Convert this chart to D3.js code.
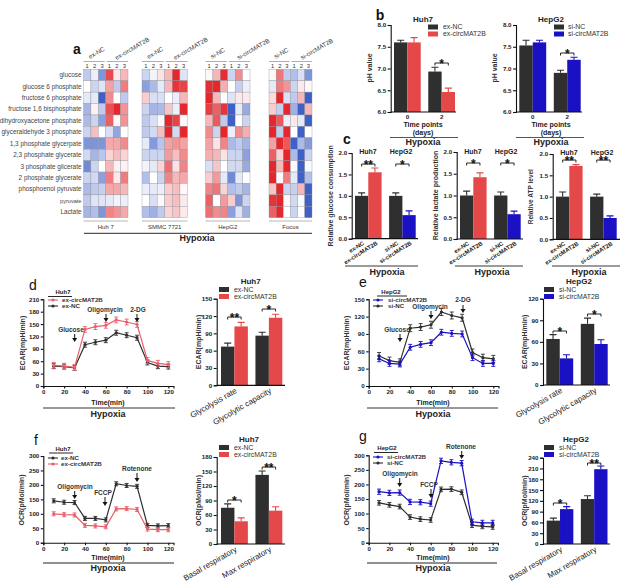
<!DOCTYPE html>
<html><head><meta charset="utf-8">
<script src="https://cdn.jsdelivr.net/npm/d3@7"></script>
<style>html,body{margin:0;padding:0;background:#fff}svg{display:block}text{font-family:"Liberation Sans",Arial,sans-serif;fill:#222}</style>
</head><body><svg id="c" width="643" height="588"></svg>
<script>
// ---------- data ----------
const metabolites=["glucose","glucose 6 phosphate","fructose 6 phosphate","fructose 1,6 bisphosphate","dihydroxyacetone phosphate","glyceraldehyde 3 phosphate","1,3 phosphate glycerpate","2,3 phosphate glycerate","3 phosphate glicerate","2 phosphate glycerate","phosphoenol pyruvate","pyruvate","Lactate"];
const replicateLabels=["1","2","3","1","2","3"];
const heatHuh7=[[-1,-.3,-2,2.5,.3,1],[0,-.8,-.5,1.3,-1,1.8],[-.4,-.4,-3,1.6,0,-1],[-1.4,.2,-1,2.4,3,1.5],[-1.3,-.8,-1.8,2.2,.1,1.5],[-.8,.9,0,-.6,-1.7,0],[-2,-2,-2,1.2,1.2,1.6],[-.7,-1.4,-1.1,.6,.9,.6],[-2.2,-.8,0,1,.2,.2],[-.8,-.7,-1.8,1.8,.3,1.8],[-1.3,-1,-.9,1.2,1.2,1],[-1,-.5,-.5,-.4,-.2,-.3],[-1.4,-1.2,-2,1.7,1.5,1.2]];
const heatSMMC=[[-.8,-.2,.4,1,3,-.5],[-1.8,-1.3,-.4,1,2.8,2.6],[.7,-.6,-.6,0,-.3,1],[-.8,-1.4,-1.3,.8,-.3,3],[-1,-.6,-.1,3,2.6,.1],[-1,-.7,.9,3,-.7,3],[-.4,-1.9,-1.1,1.3,1.5,1.3],[-.8,-.8,-.8,1.4,.9,1.6],[-.2,-.4,.6,2,.4,1.7],[-1.2,0,-.8,1.7,1,1.2],[-.3,-.4,-.3,.7,.9,.1],[0,-.6,.1,.7,.9,.3],[-1.2,-1.5,-1,.6,.8,.3]];
const heatHepG2=[[.1,1,2.9,-.8,1.6,0],[2.9,3,1.1,0,-.9,-.3],[3,1,0,-.5,.3,.3],[2.7,2.2,2.8,-3,-.4,-1.6],[1,2.3,-1,-3,0,-.8],[1.6,-.8,3,-.3,1.6,1.1],[1.3,.4,1.7,-1.3,-1,-1.4],[1.1,1,.4,-.8,-.8,-1.8],[-.6,.8,0,-.7,-.7,-1.6],[.7,1.4,-.4,-2.2,-.4,0],[1.7,1.9,.6,-1.2,-1,-1.4],[2.2,0,1.4,.7,-2,-.8],[2,1.6,1.7,-1.8,-.5,-1.5]];
const heatFocus=[[.1,1.9,-1,-1.2,-.6,-2],[-.4,1.8,1.5,-.8,.3,.1],[.5,3,-.6,-1,1,-3],[.7,-.9,3,-1.5,-3,1],[3,2.3,-.3,.3,-.4,-3],[3,-1,3,0,-3,0],[1.3,3,2.3,-3,-1.3,-1.9],[2.2,.6,3,-1.3,-3,-.8],[3,1,3,-.1,-3,-.1],[3,.1,1.8,-.4,-3,-1.2],[.8,3,-.8,-.9,1,-3],[2.8,3,.1,-.7,-.1,-3],[2.2,3,0,-.8,0,-3]];

const timePoints=[10,20,30,40,50,60,70,80,90,100,110,120];
const ecarHuh7Circ=[50,48,45,137,144,147,160,155,149,62,55,52];
const ecarHuh7NC=[48,47,44,100,106,111,129,123,117,57,48,47];
const ecarHepCirc=[47,39,38,67,72,75,93,91,90,49,39,39];
const ecarHepNC=[52,44,41,100,102,106,128,122,118,58,49,47];
const ocrHuh7NC=[145,140,139,84,84,79,204,198,195,60,58,59];
const ocrHuh7Circ=[100,97,96,60,58,55,117,118,115,47,45,45];
const ocrHepCirc=[175,171,172,140,139,134,281,276,273,72,68,68];
const ocrHepNC=[137,130,124,88,81,78,183,184,173,60,56,54];

const phHuh7=[[7.6,7.6],[6.93,6.46]], phHuh7Err=[[.05,.11],[.1,.09]];
const phHep=[[7.53,7.6],[6.9,7.2]], phHepErr=[[.12,.05],[.06,.06]];
const glucoseCons=[[1,1.55],[1,.55]], glucoseConsErr=[[.07,.1],[.07,.1]];
const lactateProd=[[1,1.42],[1,.57]], lactateProdErr=[[.1,.1],[.08,.07]];
const atpLevel=[[1,1.72],[1,.5]], atpLevelErr=[[.11,.03],[.06,.05]];
const glycHuh7=[[67,102],[86,117]], glycHuh7Err=[[6,7],[6,6]];
const glycHep=[[64,37],[85,57]], glycHepErr=[[6,5],[8,6]];
const respHuh7=[[75,47],[143,69]], respHuh7Err=[[8,7],[8,8]];
const respHep=[[65,97],[125,208]], respHepErr=[[7,7],[9,9]];
const cTickLabels=["ex-NC","ex-circMAT2B","si-NC","si-circMAT2B"];
const glycLabels=["Glycolysis rate","Glycolytic capacity"];
const respLabels=["Basal respiratory","Max respiratory"];

// ---------- helpers ----------
const DARK="#2f2f2f",RED="#e54848",BLUE="#1a10c4",LRED="#e8606c";
const svg=d3.select("#c");
function txt(x,y,s,o={}){return svg.append("text").attr("x",x).attr("y",y).text(s)
  .attr("text-anchor",o.anchor||"middle").attr("font-size",o.size||7).attr("font-weight",o.weight||"normal")
  .attr("transform",o.rot!=null?`rotate(${o.rot} ${x} ${y})`:null).style("fill",o.fill||"#222");}
function hl(x1,x2,y,w=1,c="#222"){svg.append("line").attr("x1",x1).attr("x2",x2).attr("y1",y).attr("y2",y).attr("stroke",c).attr("stroke-width",w);}
function styleAxis(g,w=1.1){g.select(".domain").attr("stroke","#111").attr("stroke-width",w);
  g.selectAll(".tick line").attr("stroke","#111").attr("stroke-width",w);
  g.selectAll(".tick text").attr("font-size",6.2).attr("font-weight","bold").attr("font-family",'"Liberation Sans",Arial,sans-serif').style("fill","#222");}
function bracket(x1,x2,y,n,size=12){
  svg.append("path").attr("d",`M${x1},${y+2.5}V${y}H${x2}V${y+2.5}`).attr("fill","none").attr("stroke","#111").attr("stroke-width",.9);
  txt((x1+x2)/2,y+size*.42-.5,n,{size,weight:"bold",fill:"#111"});
}
function hypoxia(x,y,x1,x2,ly,color="#222",w=1){hl(x1,x2,ly,w,color);txt(x,y,"Hypoxia",{size:9,weight:"bold"});}

// bar panel
function bars(o){
  const y=d3.scaleLinear().domain([o.min||0,o.max]).range([o.y0,o.y1]);
  const x=d3.scaleBand().domain([0,1]).range([o.xa,o.xb]).paddingInner(o.gap||.22);
  const inner=d3.scaleBand().domain([0,1]).range([0,x.bandwidth()]);
  const yAxis=svg.append("g").attr("transform",`translate(${o.ax},0)`).call(d3.axisLeft(y).tickValues(o.ticks).tickFormat(o.fmt||d3.format("d")).tickSize(3).tickPadding(1.5));
  styleAxis(yAxis);
  const colors=[DARK,o.color];
  const rows=o.vals.flatMap((r,g)=>r.map((v,s)=>({g,s,v,e:o.err[g][s]})));
  svg.append("g").selectAll("rect").data(rows).join("rect")
    .attr("x",d=>x(d.g)+inner(d.s)).attr("width",inner.bandwidth()).attr("y",d=>y(d.v)).attr("height",d=>y(o.min||0)-y(d.v)).attr("fill",d=>colors[d.s]);
  const cx=d=>x(d.g)+inner(d.s)+inner.bandwidth()/2;
  svg.append("g").attr("stroke-width",1.1).selectAll("path").data(rows).join("path")
    .attr("d",d=>`M${cx(d)},${y(d.v)}V${y(d.v+d.e)}M${cx(d)-3.5},${y(d.v+d.e)}H${cx(d)+3.5}`).attr("fill","none").attr("stroke",d=>colors[d.s]);
  hl(o.ax,o.xEnd,o.y0,1.2,"#111");
  return {x,inner,y,cx};
}
function legendBars(sx,tx,ys,names,color,sw=10){
  names.forEach((n,i)=>{svg.append("rect").attr("x",sx).attr("y",ys[i]-2.5).attr("width",sw).attr("height",5).attr("fill",i?color:DARK);
    txt(tx,ys[i]+2.4,n,{anchor:"start",size:6.9,fill:"#333"});});
}
// line panel
function linePanel(o){
  const x=d3.scaleLinear().domain([0,o.xMax||125]).range([o.x0,o.x0+(o.x120-o.x0)*(o.xMax||125)/120]);
  const y=d3.scaleLinear().domain([0,o.max]).range([o.y0,o.y1]);
  styleAxis(svg.append("g").attr("transform",`translate(0,${o.y0})`).call(d3.axisBottom(x).tickValues(d3.range(0,121,20)).tickSize(2.5).tickPadding(1.5)));
  styleAxis(svg.append("g").attr("transform",`translate(${o.x0},0)`).call(d3.axisLeft(y).tickValues(o.ticks).tickSize(2.5).tickPadding(1.5)));
  o.series.forEach(s=>{
    const g=svg.append("g");
    g.append("path").datum(s.v).attr("fill","none").attr("stroke",s.c).attr("stroke-width",1.2)
      .attr("d",d3.line().x((d,i)=>x(timePoints[i])).y(d=>y(d)));
    g.selectAll("path.e").data(s.v).join("path").attr("class","e").attr("fill","none").attr("stroke",s.c).attr("stroke-width",.9)
      .attr("d",(d,i)=>{const X=x(timePoints[i]);return `M${X},${y(d-s.e)}V${y(d+s.e)}M${X-2},${y(d-s.e)}H${X+2}M${X-2},${y(d+s.e)}H${X+2}`;});
    g.selectAll("circle").data(s.v).join("circle").attr("cx",(d,i)=>x(timePoints[i])).attr("cy",d=>y(d)).attr("r",1.6).attr("fill",s.c);
  });
  o.legend.forEach(l=>{hl(l.sx,l.sx+10,l.y,1.1,l.c);svg.append("circle").attr("cx",l.sx+5).attr("cy",l.y).attr("r",1.6).attr("fill",l.c);
    txt(l.tx,l.y+2,l.n,{anchor:"start",size:6.2,weight:"bold",fill:"#333"});});
  o.arrows.forEach(a=>{txt(a.tx,a.ty,a.n,{size:6.5,weight:"bold",fill:"#333"});
    svg.append("path").attr("d",`M${a.x},${a.a}V${a.b-3}`).attr("stroke","#111").attr("stroke-width",1);
    svg.append("path").attr("d",`M${a.x-2.5},${a.b-4}L${a.x+2.5},${a.b-4}L${a.x},${a.b}Z`).attr("fill","#111");});
  txt(o.tit[0],o.tit[1],o.tit[2],{size:6,weight:"bold"});hl(o.tit[3],o.tit[4],o.tit[1]+2.5,.9,"#111");
  txt(o.xl,o.xly,"Time(min)",{size:7,weight:"bold"});
  txt(o.yl[0],o.yl[1],o.yl[2],{size:7,weight:"bold",rot:-90,fill:"#333"});
}
function rotLabels(xs,labels,y,rot,size=6,weight="normal"){
  labels.forEach((l,i)=>txt(xs[i],y,l,{anchor:"end",rot,size,weight}));
}

// ---------- panel a ----------
const heatColor=d3.scaleLinear().domain([-3,0,3]).range(["#3f60c6","#ffffff","#e5262a"]);
const heatPanels=[{d:heatHuh7,a:83.5,b:128,n:"Huh 7",g:["ex-NC","ex-circMAT2B"]},{d:heatSMMC,a:142,b:187.5,n:"SMMC 7721",g:["ex-NC","ex-circMAT2B"]},{d:heatHepG2,a:205.5,b:250,n:"HepG2",g:["si-NC","si-circMAT2B"]},{d:heatFocus,a:269,b:312,n:"Focus",g:["si-NC","si-circMAT2B"]}];
const hy=d3.scaleBand().domain(d3.range(13)).range([69.3,217.7]);
metabolites.forEach((m,i)=>txt(81.5,hy(i)+hy.bandwidth()/2+2.2,m,{anchor:"end",size:i==11?5.6:6.4,fill:"#444"}));
heatPanels.forEach(p=>{
  const hx=d3.scaleBand().domain(d3.range(6)).range([p.a,p.b]);
  svg.append("g").selectAll("g").data(p.d).join("g").each(function(r,i){
    d3.select(this).selectAll("rect").data(r).join("rect").attr("x",(d,j)=>hx(j)).attr("y",hy(i)).attr("width",hx.bandwidth()).attr("height",hy.bandwidth())
      .attr("fill",d=>heatColor(d)).attr("stroke","#8d8d99").attr("stroke-width",.35);});
  replicateLabels.forEach((l,j)=>txt(hx(j)+hx.bandwidth()/2,67.5,l,{size:5.8,fill:"#333"}));
  hl(p.a,p.a+hx.bandwidth()*3-1,61.5,.6,"#777");hl(p.a+hx.bandwidth()*3+1,p.b,61.5,.6,"#777");
  txt(p.a+6.5,59,p.g[0],{anchor:"start",size:6.2,rot:-30,fill:"#333"});
  txt(p.a+33,60,p.g[1],{anchor:"start",size:6.2,rot:-30,fill:"#333"});
  hl(p.a,p.b,221,.6,"#888");
  txt((p.a+p.b)/2,229,p.n,{size:6,fill:"#333"});
});
hypoxia(197,241,84,312,233.3,"#555",1.2);

// ---------- panel b ----------
const fmt1=d3.format(".1f");
const phTicks=[6,6.5,7,7.5,8],cTicks=[0,.5,1,1.5,2];
function bPanel(vals,err,color,ax,xa,xb,xEnd,title,tx,lsx,ltx,names,ylx,brY,hx,hx1,hx2){
  const p=bars({vals,err,color,ax,xa,xb,xEnd,min:6,max:8,y0:112,y1:25,ticks:phTicks,fmt:fmt1});
  p.x.domain().forEach(g=>txt(p.x(g)+p.x.bandwidth()/2,119,["0","2"][g],{size:6.2,weight:"bold"}));
  txt(tx,22,title,{size:8,weight:"bold"});
  legendBars(lsx,ltx,[27,34],names,color);
  txt(ylx,68,"pH value",{size:7,weight:"bold",rot:-90,fill:"#333"});
  bracket(p.cx({g:1,s:0}),p.cx({g:1,s:1}),brY,"*");
  txt(hx,126.5,"Time points",{size:7,weight:"bold"});txt(hx,134.5,"(days)",{size:7,weight:"bold"});
  hypoxia(hx,145,hx1,hx2,137.5,"#555",1);
}
bPanel(phHuh7,phHuh7Err,RED,390.7,394,455,456,"Huh7",423,428,443,["ex-NC","ex-circMAT2B"],372,63,423,390,458);
bPanel(phHep,phHepErr,BLUE,516,519.3,580.7,582,"HepG2",551,554,568,["si-NC","si-circMAT2B"],497,53,551,516,584);

// ---------- panel c ----------
function cPanel(vals,err,ax,xa,xb,xEnd,y1,y0,yl,ylx,ylsz,tHuh,tHep,tY,brY,stars,hx,hl1,hl2){
  const y=d3.scaleLinear().domain([0,2]).range([y0,y1]);
  const x=d3.scaleBand().domain([0,1]).range([xa,xb]).paddingInner(.22);
  const inner=d3.scaleBand().domain([0,1]).range([0,x.bandwidth()]);
  styleAxis(svg.append("g").attr("transform",`translate(${ax},0)`).call(d3.axisLeft(y).tickValues(cTicks).tickFormat(fmt1).tickSize(3).tickPadding(1.5)));
  const rows=vals.flatMap((r,g)=>r.map((v,s)=>({g,s,v,e:err[g][s]})));
  const col=d=>d.s==0?DARK:(d.g==0?RED:BLUE);
  svg.append("g").selectAll("rect").data(rows).join("rect").attr("x",d=>x(d.g)+inner(d.s)).attr("width",inner.bandwidth()).attr("y",d=>y(d.v)).attr("height",d=>y0-y(d.v)).attr("fill",col);
  const cx=d=>x(d.g)+inner(d.s)+inner.bandwidth()/2;
  svg.append("g").selectAll("path").data(rows).join("path").attr("fill","none").attr("stroke-width",1.1).attr("stroke",col)
    .attr("d",d=>`M${cx(d)},${y(d.v)}V${y(d.v+d.e)}M${cx(d)-3.5},${y(d.v+d.e)}H${cx(d)+3.5}`);
  hl(ax,xEnd,y0,1.2,"#111");
  rotLabels(rows.map(d=>cx(d)+3),cTickLabels,y0+5.5,-32,5.8,"bold");
  txt(ylx,(y0+y1)/2,yl,{size:ylsz,weight:"bold",rot:-90,fill:"#333"});
  txt(tHuh,tY,"Huh7",{size:7,weight:"bold"});txt(tHep,tY,"HepG2",{size:7,weight:"bold"});
  [0,1].forEach(g=>bracket(cx({g,s:0}),cx({g,s:1}),brY,stars[g]));
  hypoxia(hx,274.5,hl1,hl2,266,"#222",.9);
}
cPanel(glucoseCons,glucoseConsErr,351.7,355,415.7,418,153,238.7,"Relative glucose consumption",333,7,368,401,154,164,["**","*"],387,345,418);
cPanel(lactateProd,lactateProdErr,456.7,460,520.7,523,152,239,"Relative lactate production",438,7,473,506,154,163,["*","*"],492,455,523);
cPanel(atpLevel,atpLevelErr,552.7,556,616.7,620,154,239.3,"Relative ATP level",533,6.5,569,602,155,160,["**","**"],589,552,620);

// ---------- panels d-g : time courses ----------
linePanel({x0:43.3,x120:168.3,y0:386,y1:299.3,max:210,ticks:d3.range(0,211,30),
  series:[{v:ecarHuh7NC,c:DARK,e:6},{v:ecarHuh7Circ,c:LRED,e:7}],
  legend:[{n:"ex-circMAT2B",y:300,sx:48,tx:62,c:LRED},{n:"ex-NC",y:306,sx:48,tx:62,c:DARK}],
  arrows:[{n:"Glucose",tx:71,ty:332,x:74.7,a:334,b:342},{n:"Oligomycin",tx:105,ty:312,x:106,a:314,b:322},{n:"2-DG",tx:138,ty:312,x:137,a:314,b:322}],
  tit:[63,294,"Huh7",48,72],xl:108,xly:405,yl:[25,343,"ECAR(mpH/min)"]});
hypoxia(108,417,43,175,408,"#777",1.5);
linePanel({x0:368.7,x120:493.3,y0:386,y1:299.3,max:150,ticks:d3.range(0,151,30),
  series:[{v:ecarHepNC,c:DARK,e:6},{v:ecarHepCirc,c:BLUE,e:5}],
  legend:[{n:"si-circMAT2B",y:300,sx:373,tx:388,c:BLUE},{n:"si-NC",y:306,sx:373,tx:388,c:DARK}],
  arrows:[{n:"Glucose",tx:397,ty:332,x:400,a:334,b:342},{n:"Oligomycin",tx:430,ty:309,x:431,a:311,b:319},{n:"2-DG",tx:463,ty:302,x:463,a:305,b:313}],
  tit:[391,293.5,"HepG2",377,407],xl:433,xly:405,yl:[349,343,"ECAR(mpH/min)"]});
hypoxia(433,417,367,498,408,"#777",1.5);
linePanel({x0:43.3,x120:168.3,y0:542.7,y1:456,max:300,ticks:d3.range(0,301,50),
  series:[{v:ocrHuh7NC,c:DARK,e:7},{v:ocrHuh7Circ,c:LRED,e:7}],
  legend:[{n:"ex-NC",y:458,sx:48,tx:61,c:DARK},{n:"ex-circMAT2B",y:464,sx:48,tx:61,c:LRED}],
  arrows:[{n:"Oligomycin",tx:75,ty:489,x:74.7,a:491,b:499},{n:"FCCP",tx:103,ty:495,x:105,a:497,b:506},{n:"Rotenone",tx:137,ty:471,x:137,a:473,b:482}],
  tit:[63,450.5,"Huh7",49,73],xl:108,xly:560,yl:[24,500,"OCR(pMol/min)"]});
hypoxia(108,571,43,174,563,"#222",1);
linePanel({x0:368.7,x120:492.7,y0:542.7,y1:455.3,max:300,ticks:d3.range(0,301,50),
  series:[{v:ocrHepNC,c:DARK,e:8},{v:ocrHepCirc,c:BLUE,e:9}],
  legend:[{n:"si-circMAT2B",y:457,sx:373,tx:387,c:BLUE},{n:"si-NC",y:463,sx:373,tx:387,c:DARK}],
  arrows:[{n:"Oligomycin",tx:400,ty:476,x:399.7,a:478,b:487},{n:"FCCP",tx:429,ty:487,x:431,a:489,b:498},{n:"Rotenone",tx:461,ty:449,x:461.7,a:451,b:459}],
  tit:[387,450,"HepG2",374,398],xl:433,xly:560,yl:[349,500,"OCR(pMol/min)"]});
hypoxia(433,571,367,497,563,"#222",1);

// ---------- panels d-g : bars ----------
function rPanel(vals,err,color,ax,xa,xb,xEnd,y0,y1,max,ticks,title,tx,ty,lsx,ltx,ly,names,ylab,ylx,labels,brs,rot){
  const p=bars({vals,err,color,ax,xa,xb,xEnd,max,y0,y1,ticks,gap:.22});
  txt(tx,ty,title,{size:8,weight:"bold"});
  legendBars(lsx,ltx,ly,names,color);
  txt(ylx,(y0+y1)/2,ylab,{size:7,weight:"bold",rot:-90,fill:"#333"});
  rotLabels([0,1].map(g=>p.x(g)+p.x.bandwidth()/2+3),labels,y0+7,rot,8,"normal");
  brs.forEach((b,g)=>bracket(p.cx({g,s:0}),p.cx({g,s:1}),b[0],b[1]));
}
rPanel(glycHuh7,glycHuh7Err,RED,216.7,221,282.3,285,385.3,298.7,150,d3.range(0,151,30),"Huh7",250.7,284,219,234,[289.5,296.5],["ex-NC","ex-circMAT2B"],"ECAR(mpH/min)",201,glycLabels,[[317,"**"],[309,"*"]],-30);
rPanel(glycHep,glycHepErr,BLUE,543,546.3,607.7,610,385,298.7,120,d3.range(0,121,30),"HepG2",579,283.5,544,559,[289.5,296.5],["si-NC","si-circMAT2B"],"ECAR(mpH/min)",527,glycLabels,[[331,"*"],[314,"*"]],-30);
rPanel(respHuh7,respHuh7Err,RED,216.7,221,282.3,285,544,457,180,d3.range(0,181,30),"Huh7",249,441.5,219,234,[447.5,454.5],["ex-NC","ex-circMAT2B"],"OCR(pMol/min)",201,respLabels,[[500,"*"],[467,"**"]],-30);
rPanel(respHep,respHepErr,BLUE,543,546.7,607.5,610,544,457.7,240,d3.range(0,241,30),"HepG2",576,442,544,559,[447.5,454.5],["si-NC","si-circMAT2B"],"OCR(pMol/min)",527,respLabels,[[503,"*"],[463,"**"]],-30);

// ---------- panel letters ----------
[["a",77,54],["b",380,20],["c",347,144],["d",33,290],["e",363,287],["f",36,445],["g",363,441]].forEach(l=>txt(l[1],l[2],l[0],{size:14,weight:l[0]=="a"||l[0]=="b"||l[0]=="c"?"bold":"normal",fill:"#111"}));
</script></body></html>
